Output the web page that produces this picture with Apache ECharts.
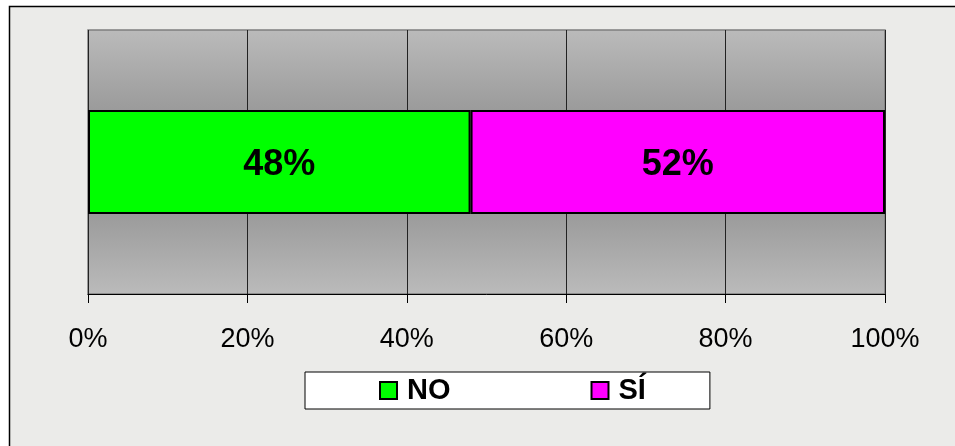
<!DOCTYPE html>
<html>
<head>
<meta charset="utf-8">
<script src="https://cdn.jsdelivr.net/npm/echarts@6/dist/echarts.min.js"></script>
<style>
html,body{margin:0;padding:0;background:#fff;}
#c{width:955px;height:446px;}
</style>
</head>
<body>
<div id="c"></div>
<script>
const categories = ['Respuesta'];
const seriesNames = ['NO', 'SÍ'];
const valuesNO = [48];
const valuesSI = [52];
const xTicks = [0, 20, 40, 60, 80, 100];

const chart = echarts.init(document.getElementById('c'), null, {renderer: 'canvas'});
const FONT = 'Liberation Sans, Arial, sans-serif';
const barStyle = (color) => ({color: color, borderColor: '#000', borderWidth: 2});
const barLabel = {show: true, position: 'inside', offset: [0, 3], formatter: '{c}%', fontFamily: FONT, fontSize: 36, fontWeight: 'bold', color: '#000'};

chart.setOption({
  backgroundColor: '#fff',
  animation: false,
  graphic: [{
    type: 'rect', z: -10, silent: true,
    shape: {x: 9.5, y: 6.5, width: 960, height: 460},
    style: {fill: '#ebebe9', stroke: '#000', lineWidth: 1.5}
  }],
  grid: {
    left: 88, top: 30, right: 70, bottom: 152,
    show: true,
    borderColor: '#7f7f7f', borderWidth: 1.5,
    backgroundColor: new echarts.graphic.LinearGradient(0, 0, 0, 1, [
      {offset: 0, color: '#bbbbbb'},
      {offset: 0.5, color: '#868686'},
      {offset: 1, color: '#bbbbbb'}
    ])
  },
  legend: {
    data: seriesNames,
    left: 305, top: 372,
    orient: 'horizontal',
    backgroundColor: '#fff',
    borderColor: '#000', borderWidth: 1,
    padding: [4, 64, 4, 74],
    itemWidth: 17, itemHeight: 17,
    itemGap: 140,
    icon: 'rect',
    textStyle: {fontFamily: FONT, fontSize: 29, fontWeight: 'bold', color: '#000', padding: [0, 0, 0, 5]}
  },
  xAxis: {
    type: 'value', min: xTicks[0], max: xTicks[xTicks.length - 1], interval: 20,
    axisLine: {show: true, lineStyle: {color: '#000', width: 1}},
    axisTick: {show: true, length: 9, lineStyle: {color: '#000'}},
    splitLine: {show: true, lineStyle: {color: '#222', width: 1}},
    axisLabel: {formatter: '{value}%', fontFamily: FONT, fontSize: 27, color: '#000', margin: 32}
  },
  yAxis: {
    type: 'category', data: categories,
    axisLine: {show: false}, axisTick: {show: false}, axisLabel: {show: false},
    splitLine: {show: false}
  },
  series: [
    {
      name: seriesNames[0], type: 'bar', stack: 'total', data: valuesNO, barWidth: 104,
      itemStyle: barStyle('#00ff00'), label: barLabel
    },
    {
      name: seriesNames[1], type: 'bar', stack: 'total', data: valuesSI, barWidth: 104,
      itemStyle: barStyle('#ff00ff'), label: barLabel
    }
  ]
});
</script>
</body>
</html>
